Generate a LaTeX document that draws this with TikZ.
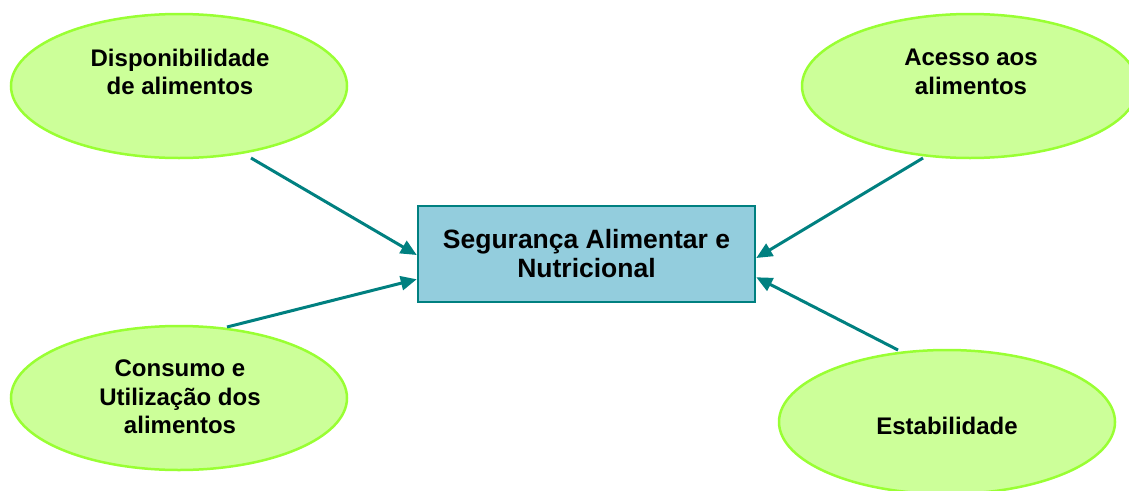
\documentclass[tikz,border=0pt]{standalone}
\usepackage{fontspec}
\setmainfont{Liberation Sans}
\usetikzlibrary{shapes.geometric,arrows.meta}
\definecolor{ellfill}{HTML}{CCFF99}
\definecolor{elldraw}{HTML}{99FF33}
\definecolor{boxfill}{HTML}{93CDDD}
\definecolor{teal}{HTML}{008080}
\tikzset{
  oval/.style={ellipse, draw=elldraw, fill=ellfill, line width=2.5pt,
    minimum width=336pt, minimum height=144pt, inner sep=0pt},
  lbl/.style={align=center, font=\bfseries\fontsize{24}{28.5}\selectfont, inner sep=0pt},
  central/.style={draw=teal, fill=boxfill, line width=2.5pt, align=center,
    font=\bfseries\fontsize{26.5}{29}\selectfont,
    minimum width=337pt, minimum height=96pt, inner sep=0pt},
  conn/.style={draw=teal, line width=3pt, -{Triangle[length=16pt,width=14pt]}}
}
\begin{document}
\begin{tikzpicture}[x=1pt,y=-1pt]
\useasboundingbox (0,0) rectangle (1129,490);
% ellipses
\node[oval] (e1) at (179,86) {};
\node[oval] (e2) at (970,86) {};
\node[oval] (e3) at (179,398) {};
\node[oval] (e4) at (947,422) {};
% labels
\node[lbl] (t1) at (180,72) {Disponibilidade\\de alimentos};
\node[lbl] (t2) at (971,72) {Acesso aos\\alimentos};
\node[lbl] (t3) at (180,397) {Consumo e\\Utiliza\c{c}\~ao dos\\alimentos};
\node[lbl] (t4) at (947,426) {Estabilidade};
% central box
\node[central] (box) at (586.5,254) {Seguran\c{c}a Alimentar e\\Nutricional};
% connector start points
\coordinate (s1) at (251,158);
\coordinate (s2) at (227,327);
\coordinate (s3) at (923,158);
\coordinate (s4) at (898,350);
\draw[conn] (s1) -- ([yshift=-1pt]box.west);
\draw[conn] (s2) -- ([yshift=24pt]box.south west);
\draw[conn] (s3) -- ([yshift=-4pt]box.east);
\draw[conn] (s4) -- ([yshift=26pt]box.south east);
\end{tikzpicture}
\end{document}
